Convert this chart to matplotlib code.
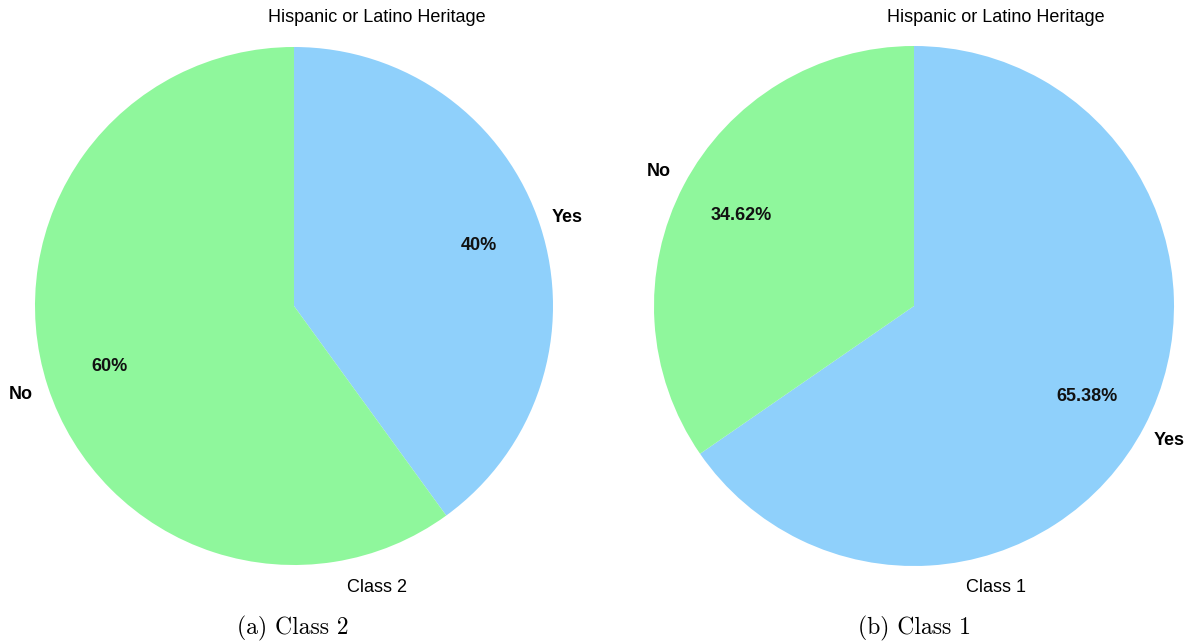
import matplotlib
matplotlib.use("Agg")
import matplotlib.pyplot as plt

# Survey responses: share of students reporting Hispanic or Latino heritage
categories = ["Yes", "No"]
class2_values = [40.0, 60.0]
class1_values = [65.38, 34.62]
panel_titles = ["Hispanic or Latino Heritage", "Hispanic or Latino Heritage"]
panel_xlabels = ["Class 2", "Class 1"]
captions = ["(a) Class 2", "(b) Class 1"]

colors = ["#8fd0fb", "#8ff79c"]

W, H = 1189, 643
fig = plt.figure(figsize=(W / 100, H / 100), dpi=100)


def px_box(cx, cy, r):
    return [(cx - r) / W, 1 - (cy + r) / H, 2 * r / W, 2 * r / H]


def fmt_pct(p):
    s = f"{p:.2f}".rstrip("0").rstrip(".")
    return s + "%"


pies = [
    dict(values=class2_values, cx=294, cy=306, r=259, tx=377, cap_x=293),
    dict(values=class1_values, cx=914, cy=306, r=260, tx=996, cap_x=914),
]

sans = "Liberation Sans"
for i, p in enumerate(pies):
    ax = fig.add_axes(px_box(p["cx"], p["cy"], p["r"]))
    wedges, texts, autotexts = ax.pie(
        p["values"], labels=categories, colors=colors, startangle=90,
        counterclock=False, autopct=fmt_pct, pctdistance=0.75,
        labeldistance=1.11, radius=1.0,
        textprops=dict(family=sans, fontsize=13),
    )
    for t in texts:
        t.set_ha("center")
        t.set_va("center")
        t.set_fontweight("bold")
    for t in autotexts:
        t.set_fontweight("bold")
        t.set_color("#111111")
    ax.set_xlim(-1, 1)
    ax.set_ylim(-1, 1)
    ax.set_aspect("equal")
    for t in texts + autotexts:
        t.set_clip_on(False)

    fig.text(p["tx"] / W, 1 - 18 / H, panel_titles[i], ha="center", va="center",
             family=sans, fontsize=13)
    fig.text(p["tx"] / W, 1 - 587 / H, panel_xlabels[i], ha="center", va="center",
             family=sans, fontsize=13)
    fig.text(p["cap_x"] / W, 1 - 628 / H, captions[i], ha="center", va="center",
             family="cmr10", fontsize=17)

fig.savefig("out.png", dpi=100)
